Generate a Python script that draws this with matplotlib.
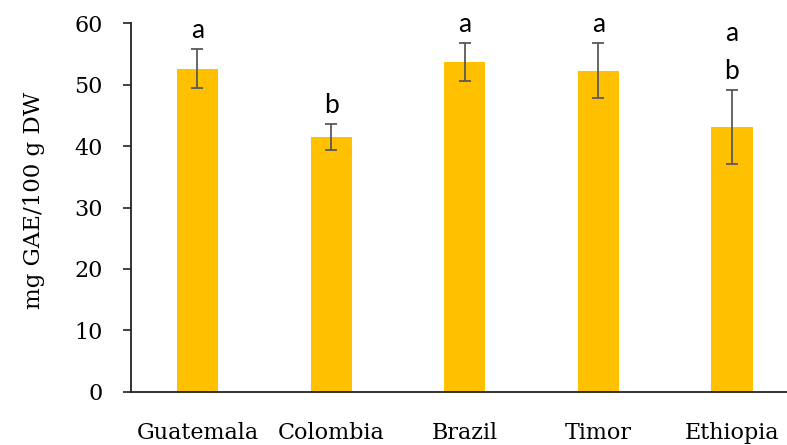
import numpy as np
import matplotlib.pyplot as plt

# Teor de fenólicos totais por origem do café
origens = ["Guatemala", "Colombia", "Brazil", "Timor", "Ethiopia"]
media = [52.6, 41.5, 53.7, 52.3, 43.1]
desvio = [3.2, 2.1, 3.05, 4.5, 6.0]
letras = [["a"], ["b"], ["a"], ["a"], ["b", "a"]]  # de baixo para cima

SERIF = "DejaVu Serif"

fig = plt.figure(figsize=(7.87, 4.45), dpi=100)
ax = fig.add_axes([0.166, 0.1198, 0.849, 0.8278])

x = np.arange(len(origens))
ax.bar(x, media, width=0.307, color="#FFC000", zorder=2)
ax.errorbar(x, media, yerr=desvio, fmt="none", ecolor="#595959",
            elinewidth=1.3, capsize=4, capthick=1.3, zorder=3)

# letras de significância acima das barras
for xi, m, d, ls in zip(x, media, desvio, letras):
    for k, l in enumerate(ls):
        ax.text(xi, m + d + 1.8 + 6.2 * k, l, ha="center", va="baseline",
                fontsize=19, family="Lato")

ax.set_xlim(-0.5, 4.5)
ax.set_ylim(0, 60)
ax.set_yticks(range(0, 61, 10))
ax.set_xticks(x)
ax.set_xticklabels(origens)

for lab in ax.get_xticklabels() + ax.get_yticklabels():
    lab.set_family(SERIF)
    lab.set_fontsize(16)

ax.tick_params(axis="y", direction="out", length=6, width=1.2, pad=14, color="#222222")
ax.tick_params(axis="x", length=0, pad=22)
ax.set_ylabel("mg GAE/100 g DW", family=SERIF, fontsize=16.5)
ax.yaxis.set_label_coords(-0.128, 0.52)

for s in ["top", "right"]:
    ax.spines[s].set_visible(False)
for s in ["left", "bottom"]:
    ax.spines[s].set_linewidth(1.3)
    ax.spines[s].set_color("#222222")

fig.savefig("out.png", dpi=100)
